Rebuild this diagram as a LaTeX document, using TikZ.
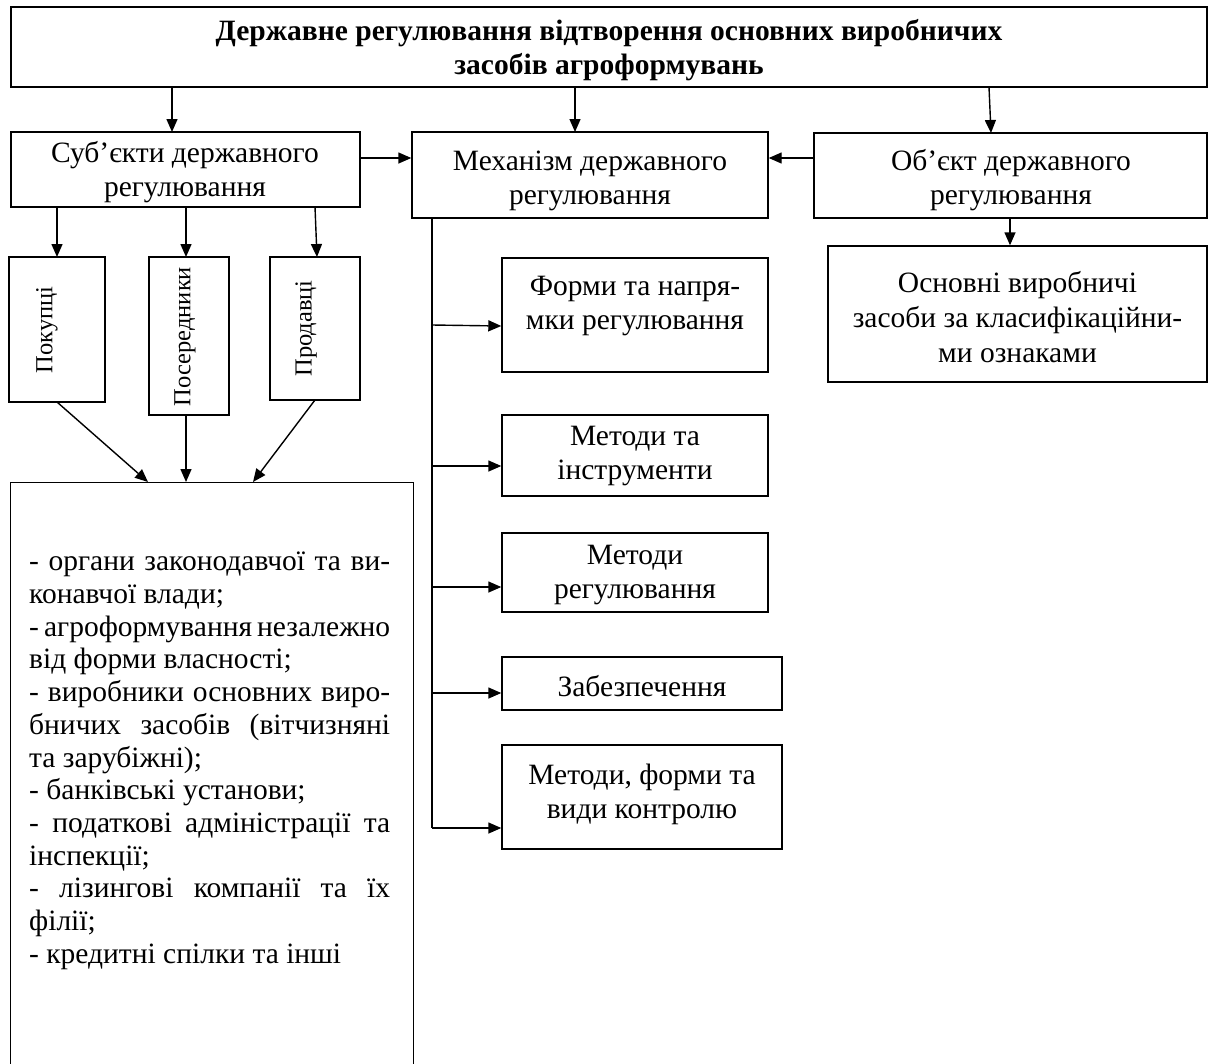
\documentclass[tikz,border=0pt]{standalone}
\usepackage{fontspec}
\setmainfont{Liberation Serif}
\usetikzlibrary{arrows.meta}
\begin{document}
\begin{tikzpicture}[x=1pt,y=-1pt,
  box/.style={draw, line width=1.4pt, inner sep=0pt},
  txt/.style={inner sep=0pt, align=center, font=\fontsize{29.5}{34}\selectfont},
  vtxt/.style={inner sep=0pt, rotate=90, font=\fontsize{24.5}{30}\selectfont},
  arr/.style={line width=1.4pt, -{Triangle[length=13pt,width=11pt]}},
  ln/.style={line width=1.4pt}]
\useasboundingbox (0,0) rectangle (1209,1063);

% top
\node[box, line width=1.7pt, minimum width=1196pt, minimum height=80pt] (top) at (609,47) {};
\node[txt, font=\bfseries\fontsize{29.5}{33.5}\selectfont] (topT) at (609,50)
  {Державне регулювання відтворення основних виробничих\\засобів агроформувань};

% row 2
\node[box, minimum width=349pt, minimum height=75pt] (sub) at (185.5,169.5) {};
\node[txt] (subT) at (185,172.5) {Суб’єкти державного\\регулювання};
\node[box, minimum width=356pt, minimum height=86pt] (mech) at (590,175) {};
\node[txt] (mechT) at (590,181) {Механізм державного\\регулювання};
\node[box, minimum width=393pt, minimum height=85pt] (obj) at (1010.5,175.5) {};
\node[txt] (objT) at (1011,180) {Об’єкт державного\\регулювання};

\draw[arr] (172,87) -- (172,132);
\draw[arr] (575,87) -- (575,132);
\draw[arr] (989,87) -- (991,133);
\draw[arr] (sub.east |- 0,158) -- (mech.west |- 0,158);
\draw[arr] (obj.west |- 0,158) -- (mech.east |- 0,158);

% small vertical boxes
\node[box, minimum width=96pt, minimum height=145pt] (pok) at (57,329.5) {};
\node[vtxt] (pokT) at (47,330) {Покупці};
\node[box, minimum width=80pt, minimum height=158pt] (pos) at (189,336) {};
\node[vtxt] (posT) at (185,336.5) {Посередники};
\node[box, minimum width=90pt, minimum height=143pt] (prod) at (315,328.5) {};
\node[vtxt] (prodT) at (306,328.5) {Продавці};

\draw[arr] (57,207) -- (57,257);
\draw[arr] (186,207) -- (186,257);
\draw[arr] (315,207) -- (317,257);

% list box
\node[box, minimum width=403pt, minimum height=620pt, anchor=north west] (list) at (10,482) {};
\node[inner sep=0pt, anchor=north west, text width=361pt, align=justify,
      font=\fontsize{29.5}{32.7}\selectfont] (listT) at (29,552)
{\setlength{\parindent}{0pt}\hyphenpenalty=10000\lineskiplimit=-30pt
- органи законодавчої та ви-\linebreak конавчої влади;\par
- агроформування незалежно\linebreak від форми власності;\par
- виробники основних виро-\linebreak бничих засобів (вітчизняні\linebreak та зарубіжні);\par
- банківські установи;\par
- податкові адміністрації та\linebreak інспекції;\par
- лізингові компанії та їх\linebreak філії;\par
- кредитні спілки та інші\par};

\draw[arr] (57,402) -- (148,482);
\draw[arr] (186,415) -- (186,482);
\draw[arr] (315,400) -- (253,482);

% mechanism column
\coordinate (mtop) at (432,218);
\coordinate (mbot) at (432,828);
\draw[ln] (mtop) -- (mbot);

\node[box, minimum width=266pt, minimum height=114pt] (forms) at (635,315) {};
\node[txt] (formsT) at (635,306) {Форми та напря-\\мки регулювання};
\node[box, minimum width=266pt, minimum height=81pt] (tools) at (635,455.5) {};
\node[txt] (toolsT) at (635,456.5) {Методи та\\інструменти};
\node[box, minimum width=266pt, minimum height=79pt] (metreg) at (635,572.5) {};
\node[txt] (metregT) at (635,575) {Методи\\регулювання};
\node[box, minimum width=280pt, minimum height=53pt] (zab) at (642,683.5) {};
\node[txt] (zabT) at (642,686) {Забезпечення};
\node[box, minimum width=280pt, minimum height=104pt] (ctrl) at (642,797) {};
\node[txt] (ctrlT) at (642,794.5) {Методи, форми та\\види контролю};

\draw[arr] (432,325) -- (forms.west |- 0,326);
\draw[arr] (432,466) -- (tools.west |- 0,466);
\draw[arr] (432,587) -- (metreg.west |- 0,587);
\draw[arr] (432,693) -- (zab.west |- 0,693);
\draw[arr] (mbot) -- (ctrl.west |- mbot);

% object column
\node[box, minimum width=379pt, minimum height=136pt] (osn) at (1017.5,314) {};
\node[txt, font=\fontsize{29.5}{35}\selectfont] (osnT) at (1017.5,317) {Основні виробничі\\засоби за класифікаційни-\\ми ознаками};
\draw[arr] (obj.south -| 1010,0) -- (osn.north -| 1010,0);
\end{tikzpicture}
\end{document}
